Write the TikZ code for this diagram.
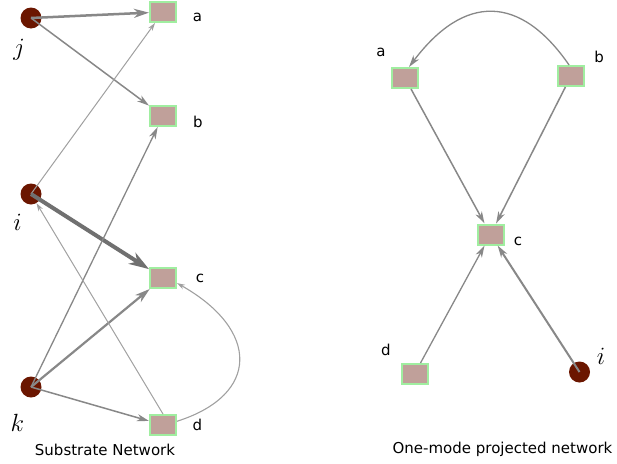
\documentclass[tikz,border=0pt]{standalone}
\usepackage{fontspec}
\setmainfont{DejaVu Sans}
\usetikzlibrary{arrows.meta}
\definecolor{sqline}{RGB}{160,238,160}
\definecolor{sqfill}{RGB}{192,160,154}
\definecolor{cifill}{RGB}{107,22,0}
\definecolor{edgegray}{RGB}{136,136,136}
\definecolor{lightedge}{RGB}{160,160,160}
\definecolor{darkedge}{RGB}{112,112,112}
\begin{document}
\begin{tikzpicture}[x=1pt,y=-1pt,
  sq/.style={rectangle,draw=sqline,fill=sqfill,line width=2pt,minimum width=26pt,minimum height=20pt,inner sep=0pt},
  ci/.style={circle,fill=cifill,minimum size=21pt,inner sep=0pt},
  lab/.style={font=\fontsize{15}{15}\selectfont,anchor=base,inner sep=0pt},
  mlab/.style={font=\fontsize{26}{26}\selectfont,inner sep=0pt},
  ed/.style={draw=edgegray},
  tipS/.style={-{Stealth[length=8pt,width=5pt,inset=2.5pt]}},
  tipM/.style={-{Stealth[length=12pt,width=7pt,inset=3.5pt]}},
  tipL/.style={-{Stealth[length=15pt,width=9pt,inset=4.5pt]}},
  tipXL/.style={-{Stealth[length=20pt,width=13pt,inset=6pt]}}
]
\useasboundingbox (0,0) rectangle (617,463);
% ---- left: substrate network
\node[ci] (j) at (31,18) {};
\node[ci] (i) at (31,194) {};
\node[ci] (k) at (31,387) {};
\node[sq] (a) at (163,12) {};
\node[sq] (b) at (163,116) {};
\node[sq] (c) at (163,278) {};
\node[sq] (d) at (163,425) {};
\node[mlab] (jl) at (19,50) {$j$};
\node[mlab] (il) at (17.5,222) {$i$};
\node[mlab] (kl) at (17.5,423) {$k$};
\node[lab] (al) at (197.5,21) {a};
\node[lab] (bl) at (198,127) {b};
\node[lab] (cl) at (200,282) {c};
\node[lab] (dl) at (197.5,430) {d};
\node[lab] (cap1) at (105,455) {Substrate Network};
\draw[ed,line width=2.5pt,tipL] (j.center) -- (a);
\draw[ed,line width=1.5pt,tipM] (j.center) -- (b);
\draw[draw=lightedge,line width=1pt,tipS] (i.center) -- (a);
\draw[draw=darkedge,line width=4pt,tipXL] (i.center) -- (c);
\draw[ed,line width=1.3pt,tipM] (k.center) -- (b);
\draw[ed,line width=2.2pt,tipL] (k.center) -- (c);
\draw[ed,line width=1.5pt,tipM] (k.center) -- (d);
\draw[draw=lightedge,line width=1pt,tipS] (d.north) -- (i);
\draw[draw=lightedge,line width=1.1pt,tipS] (d.15) .. controls (260,395) and (260,330) .. (c.-20);
% ---- right: one-mode projected network
\node[sq] (ra) at (405,78) {};
\node[sq] (rb) at (571,76) {};
\node[sq] (rc) at (490.5,234.5) {};
\node[sq] (rd) at (414.5,374) {};
\node[ci] (ri) at (579.5,372) {};
\node[lab] (ral) at (381,56.5) {a};
\node[lab] (rbl) at (599,62) {b};
\node[lab] (rcl) at (518,245) {c};
\node[lab] (rdl) at (386,355) {d};
\node[mlab] (ril) at (601,356) {$i$};
\node[lab] (cap2) at (502.5,453) {One-mode projected network};
\draw[ed,line width=1.3pt,tipM] (rb.100) .. controls (520,-6) and (464,-6) .. (ra.70);
\draw[ed,line width=1.5pt,tipM] (ra) -- (rc);
\draw[ed,line width=1.5pt,tipM] (rb) -- (rc);
\draw[ed,line width=1.3pt,tipM] (rd) -- (rc);
\draw[ed,line width=2pt,tipM] (ri.center) -- (rc);
\end{tikzpicture}
\end{document}
